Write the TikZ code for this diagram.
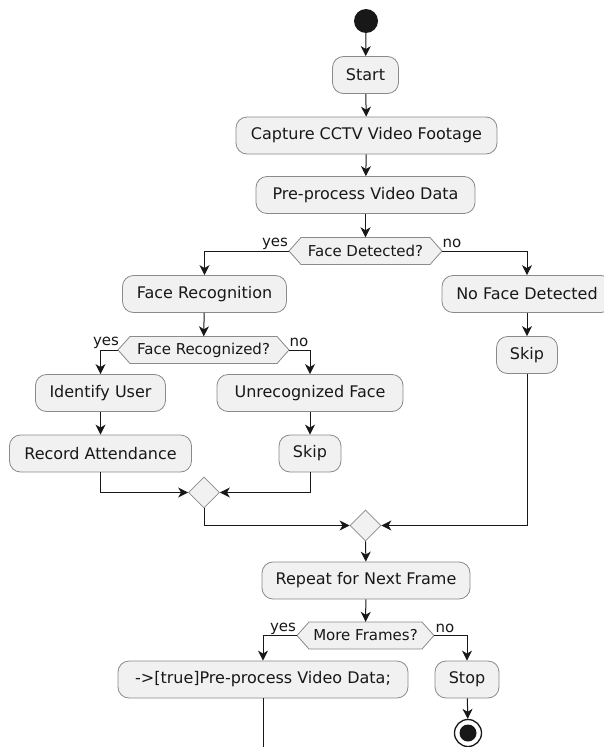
\documentclass[tikz,border=0pt]{standalone}
\usepackage{fontspec}
\setmainfont{DejaVu Sans}
\usetikzlibrary{arrows.meta,calc,shapes.geometric}
\definecolor{boxfill}{HTML}{F1F1F1}
\definecolor{boxline}{HTML}{8A8A8A}
\definecolor{ink}{HTML}{181818}
\newcommand\hexagonat[4]{%
  \filldraw[hexline] (#1-#3,#2) -- (#1-#3+12,#2-#4) -- (#1+#3-12,#2-#4) -- (#1+#3,#2) -- (#1+#3-12,#2+#4) -- (#1-#3+12,#2+#4) -- cycle;}
\begin{document}
\begin{tikzpicture}[x=1pt,y=-1pt,
  act/.style={draw=boxline, line width=0.8pt, fill=boxfill, rounded corners=11pt, minimum height=37pt, inner sep=0pt, font=\fontsize{16}{19}\selectfont, text=ink},
  hexnode/.style={minimum height=27pt, inner sep=0pt, font=\fontsize{15}{17}\selectfont, text=ink},
  hexline/.style={draw=boxline, line width=0.8pt, fill=boxfill},
  lbl/.style={font=\fontsize{15}{17}\selectfont, inner sep=0pt, text=ink},
  flow/.style={draw=ink, line width=1pt, -{Stealth[length=10pt,width=10pt,inset=3pt]}},
  plainline/.style={draw=ink, line width=1pt},
  merge/.style={diamond, draw=boxline, fill=boxfill, line width=0.8pt, minimum width=31pt, minimum height=31pt, inner sep=0pt},
]
\clip (0,0) rectangle (604,747);
\fill[white] (0,0) rectangle (604,747);

% start
\node[circle, fill=ink, minimum size=24pt, inner sep=0pt] (startdot) at (366,21) {};
\node[act, minimum width=66pt] (s1) at (365.5,75) {Start};
\node[act, minimum width=261pt] (cap) at (366.5,135.5) {Capture CCTV Video Footage};
\node[act, minimum width=219pt] (pre) at (365.5,195) {Pre-process Video Data};

% face detected
\hexagonat{365.5}{251}{76.5}{13.5}
\node[hexnode, minimum width=153pt] (fd) at (365.5,251) {Face Detected?};
\node[lbl] (fdyes) at (275,243.5) {yes};
\node[lbl] (fdno) at (452,243.5) {no};

\node[act, minimum width=164pt] (fr) at (204.5,294) {Face Recognition};
\node[act, minimum width=170pt] (nfd) at (527,294) {No Face Detected};

% face recognized
\hexagonat{203.5}{350}{85.5}{13.5}
\node[hexnode, minimum width=171pt] (frd) at (203.5,350) {Face Recognized?};
\node[lbl] (frdyes) at (106,342.5) {yes};
\node[lbl] (frdno) at (299,342.5) {no};

\node[act, minimum width=61pt] (skr) at (527,355) {Skip};
\node[act, minimum width=130pt] (idu) at (100.5,393) {Identify User};
\node[act, minimum width=186pt] (unr) at (310,393) {Unrecognized Face};
\node[act, minimum width=182pt] (rec) at (100.5,453.5) {Record Attendance};
\node[act, minimum width=62pt] (skl) at (310,453.5) {Skip};

\node[merge] (m1) at (204,492.5) {};
\node[merge] (m2) at (365.5,525.5) {};

\node[act, minimum width=208pt] (rep) at (366,580.5) {Repeat for Next Frame};

% more frames
\hexagonat{365.5}{635.5}{68.5}{13.5}
\node[hexnode, minimum width=137pt] (mf) at (365.5,635.5) {More Frames?};
\node[lbl] (mfyes) at (283,628.5) {yes};
\node[lbl] (mfno) at (445,628.5) {no};

\node[act, minimum width=290pt] (loop) at (263,679.5) {->[true]Pre-process Video Data;};
\node[act, minimum width=64pt] (stop) at (467,679.5) {Stop};

\node[circle, draw=ink, fill=white, line width=1.3pt, minimum size=27pt, inner sep=0pt] (enddot) at (468,733) {};
\fill[ink] (enddot.center) circle (8.5pt);

\coordinate (loopend) at (263,760);

% connectors
\draw[flow] (startdot) -- (s1);
\draw[flow] (s1) -- (cap);
\draw[flow] (cap) -- (pre);
\draw[flow] (pre) -- (fd);
\draw[flow] (fd.west) -| (fr.north);
\draw[flow] (fd.east) -| (nfd.north);
\draw[flow] (fr) -- (frd);
\draw[flow] (frd.west) -| (idu.north);
\draw[flow] (frd.east) -| (unr.north);
\draw[flow] (nfd) -- (skr);
\draw[flow] (idu) -- (rec);
\draw[flow] (unr) -- (skl);
\draw[flow] (rec.south) |- (m1.west);
\draw[flow] (skl.south) |- (m1.east);
\draw[flow] (m1.south) |- (m2.west);
\draw[flow] (skr.south) |- (m2.east);
\draw[flow] (m2) -- (rep);
\draw[flow] (rep) -- (mf);
\draw[flow] (mf.west) -| (loop.north);
\draw[flow] (mf.east) -| (stop.north);
\draw[flow] (stop) -- (enddot);
\draw[plainline] (loop.south) -- (loopend);
\end{tikzpicture}
\end{document}
